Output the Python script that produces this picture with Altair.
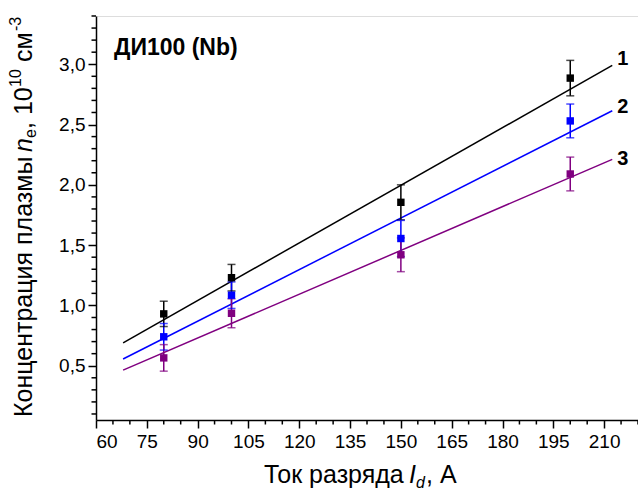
import altair as alt
import pandas as pd

# ---------------- data ----------------
current = [80, 100, 150, 200]
n1 = [0.93, 1.23, 1.855, 2.885]
n2 = [0.74, 1.085, 1.555, 2.53]
n3 = [0.565, 0.935, 1.42, 2.09]
err1 = [0.105, 0.11, 0.145, 0.147]
err2 = [0.11, 0.11, 0.15, 0.14]
err3 = [0.11, 0.12, 0.14, 0.14]

fit_x = [68.0, 212.4]
fit1 = [0.69, 2.99]
fit2 = [0.556, 2.614]
fit3 = [0.464, 2.211]

series = ["1", "2", "3"]
colors = ["#000000", "#0000ff", "#800080"]
label_x = 215.5
label_y = [3.04, 2.643, 2.211]

x_major = [60, 75, 90, 105, 120, 135, 150, 165, 180, 195, 210]
x_minor = [65, 70, 80, 85, 95, 100, 110, 115, 125, 130, 140, 145, 155, 160,
           170, 175, 185, 190, 200, 205, 215, 220]
y_major = [0.5, 1.0, 1.5, 2.0, 2.5, 3.0]
y_minor = [0.1, 0.2, 0.3, 0.4, 0.6, 0.7, 0.8, 0.9, 1.1, 1.2, 1.3, 1.4,
           1.6, 1.7, 1.8, 1.9, 2.1, 2.2, 2.3, 2.4, 2.6, 2.7, 2.8, 2.9,
           3.1, 3.2, 3.3, 3.4]

X_DOMAIN = [60, 220]
Y_DOMAIN = [0.05, 3.4]
W, H = 542, 404
FONT = "Liberation Sans"

# ---------------- tables ----------------
pts_rows = []
for s, ys, es in zip(series, [n1, n2, n3], [err1, err2, err3]):
    for x, y, e in zip(current, ys, es):
        pts_rows.append({"s": s, "x": x, "y": y, "lo": y - e, "hi": y + e})
pts = pd.DataFrame(pts_rows)

fit_rows = []
for s, ys in zip(series, [fit1, fit2, fit3]):
    for x, y in zip(fit_x, ys):
        fit_rows.append({"s": s, "x": x, "y": y})
fits = pd.DataFrame(fit_rows)

labels = pd.DataFrame({"s": series, "x": [label_x] * 3, "y": label_y})

xs = alt.Scale(domain=X_DOMAIN, nice=False, zero=False)
ys_ = alt.Scale(domain=Y_DOMAIN, nice=False, zero=False)
col = alt.Color("s:N", scale=alt.Scale(domain=series, range=colors), legend=None)

x_axis = alt.Axis(values=x_major, title=None, grid=False, tickSize=8, tickWidth=1.5,
                  domainWidth=1.5, domainColor="black", tickColor="black",
                  labelFontSize=19, labelColor="black", labelFont=FONT, labelPadding=4)
y_axis = alt.Axis(values=y_major, title=None, grid=False, tickSize=8, tickWidth=1.5,
                  domainWidth=1.5, domainColor="black", tickColor="black",
                  labelFontSize=19, labelColor="black", labelFont=FONT, labelPadding=3,
                  labelExpr="replace(format(datum.value, '.1f'), '.', ',')")

base = alt.Chart(pts)

lines = alt.Chart(fits).mark_line(strokeWidth=1.5).encode(
    x=alt.X("x:Q", scale=xs, axis=x_axis),
    y=alt.Y("y:Q", scale=ys_, axis=y_axis),
    color=col, detail="s:N")

bars = base.mark_rule(strokeWidth=1.5).encode(
    x="x:Q", y="lo:Q", y2="hi:Q", color=col)
cap_lo = base.mark_tick(orient="horizontal", size=8, thickness=1.5).encode(
    x="x:Q", y="lo:Q", color=col)
cap_hi = base.mark_tick(orient="horizontal", size=8, thickness=1.5).encode(
    x="x:Q", y="hi:Q", color=col)
squares = base.mark_square(size=55, opacity=1).encode(
    x="x:Q", y="y:Q", color=col)

num_labels = alt.Chart(labels).mark_text(
    font=FONT, fontSize=20, fontWeight="bold", align="center", baseline="middle",
    color="black").encode(x="x:Q", y="y:Q", text="s:N")

# minor ticks
xminor = alt.Chart(pd.DataFrame({"v": x_minor})).mark_rule(
    color="black", strokeWidth=1.5).encode(
    x="v:Q", y=alt.value(H), y2=alt.value(H + 4.5))
yminor = alt.Chart(pd.DataFrame({"v": y_minor})).mark_rule(
    color="black", strokeWidth=1.5).encode(
    y="v:Q", x=alt.value(-4.5), x2=alt.value(0))

# in-plot title
ttl = alt.Chart(pd.DataFrame({"t": ["ДИ100 (Nb)"]})).mark_text(
    font=FONT, fontSize=23, fontWeight="bold", align="left", baseline="alphabetic",
    color="black").encode(x=alt.value(18), y=alt.value(39), text="t:N")


def txt(t, x, y, size=25, style="normal", align="left", baseline="alphabetic", angle=0):
    return alt.Chart(pd.DataFrame({"t": [t]})).mark_text(
        font=FONT, fontSize=size, fontStyle=style, align=align, baseline=baseline,
        angle=angle, color="black").encode(x=alt.value(x), y=alt.value(y), text="t:N")


# x-axis title pieces
xt = [
    txt("Ток разряда", 168, 467),
    txt("I", 313, 467, style="italic"),
    txt("d", 320, 472, size=16, style="italic"),
    txt(", А", 330, 467),
]

# y-axis title pieces (rotated)
yx = -72
yt = [
    txt("Концентрация плазмы", yx, 401, angle=270, baseline="middle"),
    txt("n", yx, 136, angle=270, baseline="middle", style="italic"),
    txt("e", yx + 7, 122, size=16, angle=270, baseline="middle"),
    txt(", 10", yx, 113, angle=270, baseline="middle"),
    txt("10", yx - 8, 71, size=16, angle=270, baseline="middle"),
    txt("см", yx, 46, angle=270, baseline="middle"),
    txt("-3", yx - 8, 15, size=16, angle=270, baseline="middle"),
]

chart = alt.layer(
    lines, bars, cap_lo, cap_hi, squares, num_labels, xminor, yminor, ttl, *xt, *yt
).properties(
    width=W, height=H,
    autosize=alt.AutoSizeParams(type="none"),
    padding={"left": 96, "top": 16, "right": 0, "bottom": 73},
).configure_view(stroke=None).configure(background="white")

chart.save("out.html", embed_options={"renderer": "svg", "actions": False})
